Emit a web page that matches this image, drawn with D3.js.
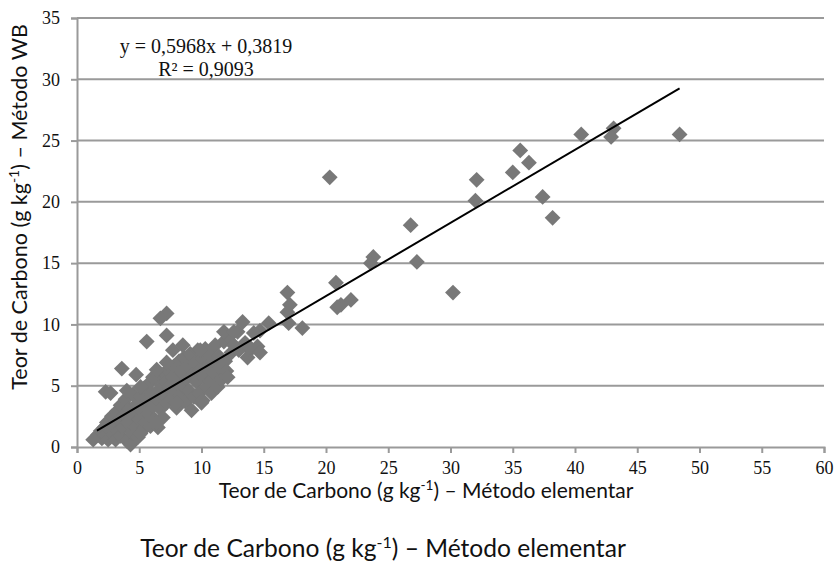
<!DOCTYPE html>
<html><head><meta charset="utf-8">
<script src="https://cdn.jsdelivr.net/npm/d3@7"></script>
<style>body{margin:0;background:#fff}svg{display:block}</style>
</head><body>
<svg id="c" width="838" height="575"></svg>
<script>
const xTicks = [0,5,10,15,20,25,30,35,40,45,50,55,60];
const yTicks = [0,5,10,15,20,25,30,35];
const xVals = [1.7,1.9,2.0,2.2,2.3,2.5,2.4,2.6,2.3,
 2.8,2.9,3.0,3.1,3.2,3.3,3.4,3.5,3.5,
 3.7,3.8,3.9,4.0,4.1,4.2,4.3,4.4,4.5,4.5,
 4.7,4.8,4.9,5.0,5.1,5.2,5.3,5.4,5.5,
 5.6,5.7,5.8,5.9,6.0,6.1,6.2,6.3,6.4,6.5,
 6.6,6.7,6.8,6.9,7.0,7.1,7.2,7.3,7.4,
 7.6,7.7,7.8,7.9,8.0,8.1,8.2,8.3,8.4,8.5,
 8.6,8.7,8.8,8.9,9.0,9.1,9.2,9.3,9.4,9.5,
 9.6,9.7,9.8,9.9,10.0,10.1,10.2,10.3,10.4,10.5,
 10.6,10.7,10.8,10.9,11.0,11.1,11.2,11.3,11.4,11.5,
 11.6,11.8,11.9,12.0,12.2,12.4,12.6,12.9,13.0,
 2.7,4.0,5.1,6.1,7.2,7.7,9.9,11.8,12.6,1.3,5.1,6.4,8.0,10.1,12.1,13.7,14.5,13.5,13.9,
 3.6,4.75,6.4,5.6,7.2,7.2,6.7,8.5,
 13.3,15.4,14.7,14.2,13.9,14.7,16.9,17.1,16.9,17.0,18.1,
 20.8,21.2,22.0,20.9,20.3,23.8,23.6,27.3,26.8,30.2,
 32.1,32.0,35.6,36.3,35.0,37.4,38.2,40.5,43.1,42.9,48.4];
const yVals = [1.0,1.3,0.7,1.6,1.0,0.6,2.0,1.4,4.5,
 2.5,1.0,1.8,0.6,2.9,1.3,2.2,3.4,0.9,
 1.6,2.6,3.9,0.5,2.0,3.1,0.2,1.2,4.3,2.7,
 1.6,3.5,0.8,2.3,4.1,3.0,1.4,4.8,2.0,
 3.7,2.7,5.2,1.7,4.4,3.3,2.3,5.6,3.9,1.6,
 4.7,3.1,5.9,2.4,4.2,5.3,3.6,6.3,4.9,
 3.9,5.7,6.6,4.6,3.2,5.2,7.0,4.2,6.1,5.0,
 7.3,3.7,5.6,6.6,4.6,7.6,3.0,5.9,4.1,6.9,
 5.3,7.9,4.4,6.3,3.6,7.2,5.7,8.0,4.9,6.6,
 7.6,5.4,4.4,7.0,6.0,8.3,5.2,4.9,7.4,6.4,
 5.5,8.6,7.0,6.2,9.0,7.7,8.3,9.4,7.9,
 4.4,4.6,4.9,5.7,6.9,7.9,7.9,9.4,9.4,0.6,1.1,2.0,3.6,3.8,5.7,7.3,8.2,8.5,7.9,
 6.4,5.9,6.3,8.6,9.1,10.9,10.5,8.3,
 10.2,10.1,9.5,9.3,8.1,7.7,12.6,11.6,11.0,10.1,9.7,
 13.4,11.6,12.0,11.4,22.0,15.5,15.0,15.1,18.1,12.6,
 21.8,20.1,24.2,23.2,22.4,20.4,18.7,25.5,26.0,25.3,25.5];
const slope = 0.5968, intercept = 0.3819;
const fitRange = [1.6, 48.4];

const svg = d3.select("#c");
const x = d3.scaleLinear().domain([0,60]).range([77,824]);
const y = d3.scaleLinear().domain([0,35]).range([447,18]);
const grid = "#9a9a9a";

// gridlines
svg.append("g").selectAll("line").data(yTicks.filter(d=>d>0)).join("line")
  .attr("x1", x(0)).attr("x2", x(60)).attr("y1", d=>y(d)).attr("y2", d=>y(d))
  .attr("stroke", grid).attr("stroke-width", 2);

// axes
const xAxis = svg.append("g").attr("transform", `translate(0,${y(0)})`)
  .call(d3.axisBottom(x).tickValues(xTicks).tickSize(6).tickFormat(d3.format("d")));
const yAxis = svg.append("g").attr("transform", `translate(${x(0)},0)`)
  .call(d3.axisLeft(y).tickValues(yTicks).tickSize(6).tickFormat(d3.format("d")));
[xAxis, yAxis].forEach(a => {
  a.select(".domain").attr("stroke", grid).attr("stroke-width", 2);
  a.selectAll(".tick line").attr("stroke", grid).attr("stroke-width", 2);
  a.selectAll(".tick text").attr("font-family", "Liberation Serif").attr("font-size", 18).attr("fill", "#111");
});
xAxis.selectAll(".tick text").attr("dy", "1.0em");
yAxis.selectAll(".tick text").attr("dx", "-8");

// points
const pts = xVals.map((v,i)=>[v, yVals[i]]);
svg.append("g").selectAll("path").data(pts).join("path")
  .attr("d", d3.symbol(d3.symbolSquare, 125))
  .attr("transform", d=>`translate(${x(d[0])},${y(d[1])}) rotate(45)`)
  .attr("fill", "#787878");

// fit line
svg.append("line")
  .attr("x1", x(fitRange[0])).attr("y1", y(slope*fitRange[0]+intercept))
  .attr("x2", x(fitRange[1])).attr("y2", y(slope*fitRange[1]+intercept))
  .attr("stroke", "#000").attr("stroke-width", 2);

// equation
const eq = svg.append("text").attr("font-family","Liberation Serif").attr("font-size",20).attr("fill","#111").attr("text-anchor","middle");
eq.append("tspan").attr("x",206).attr("y",53).text("y = 0,5968x + 0,3819");
eq.append("tspan").attr("x",206).attr("y",76).text("R² = 0,9093");

// axis titles
function title(sel, prefix, suffix){
  sel.append("tspan").text(prefix);
  sel.append("tspan").attr("baseline-shift","super").attr("font-size","0.65em").text("-1");
  sel.append("tspan").text(suffix);
}
const tx = svg.append("text").attr("x",426).attr("y",498).attr("text-anchor","middle")
  .attr("font-family","Lato").attr("font-size",21).attr("fill","#111");
title(tx, "Teor de Carbono (g kg", ") – Método elementar");
const tx2 = svg.append("text").attr("x",383).attr("y",557).attr("text-anchor","middle")
  .attr("font-family","Lato").attr("font-size",24.6).attr("fill","#111");
title(tx2, "Teor de Carbono (g kg", ") – Método elementar");
const ty = svg.append("text").attr("transform","translate(27,207) rotate(-90)").attr("text-anchor","middle")
  .attr("font-family","Lato").attr("font-size",21.5).attr("fill","#111");
title(ty, "Teor de Carbono (g kg", ") – Método WB");
</script>
</body></html>
